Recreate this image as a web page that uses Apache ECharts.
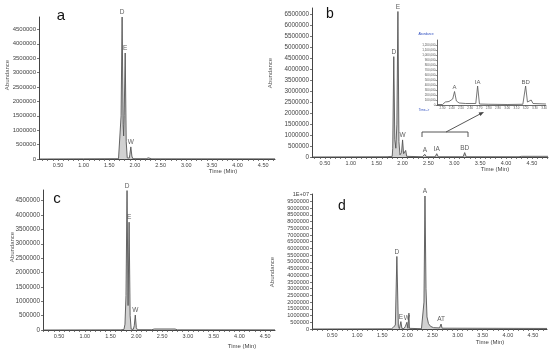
<!DOCTYPE html>
<html>
<head>
<meta charset="utf-8">
<script src="https://cdn.jsdelivr.net/npm/echarts@6/dist/echarts.min.js"></script>
<style>html,body{margin:0;padding:0;background:#fff}#c{width:550px;height:350px}</style>
</head>
<body>
<div id="c"></div>
<script>
// ---------- data ----------
const xTickLabels = [0.5, 1.0, 1.5, 2.0, 2.5, 3.0, 3.5, 4.0, 4.5];
const yTicks45 = [0, 500000, 1000000, 1500000, 2000000, 2500000, 3000000, 3500000, 4000000, 4500000];
const yTicks65 = [0, 500000, 1000000, 1500000, 2000000, 2500000, 3000000, 3500000, 4000000, 4500000, 5000000, 5500000, 6000000, 6500000];
const yTicks100 = [0, 500000, 1000000, 1500000, 2000000, 2500000, 3000000, 3500000, 4000000, 4500000, 5000000, 5500000, 6000000, 6500000, 7000000, 7500000, 8000000, 8500000, 9000000, 9500000, 10000000];
const insetXTicks = [2.3, 2.4, 2.5, 2.6, 2.7, 2.8, 2.9, 3.0, 3.1, 3.2, 3.3, 3.4];
const insetYTicks = [0, 100000, 200000, 300000, 400000, 500000, 600000, 700000, 800000, 900000, 1000000, 1100000, 1200000];

// panel a
const aTime  = [0.13, 1.00, 1.68, 1.71, 1.73, 1.75, 1.77, 1.78, 1.79, 1.81, 1.83, 1.85, 1.89, 1.90, 1.92, 1.94, 1.96, 2.22, 2.26, 2.29, 2.33, 4.73];
const aAbund = [0, 5000, 10000, 60000, 1500000, 4930000, 1200000, 800000, 1500000, 3680000, 600000, 40000, 30000, 150000, 420000, 100000, 10000, 10000, 40000, 30000, 5000, 5000];
const aPeakNames = ['D', 'E', 'W'];
const aPeakTimes = [1.75, 1.81, 1.92];
const aPeakVals  = [4930000, 3680000, 420000];

// panel b
const bTime  = [0.25, 1.70, 1.76, 1.78, 1.80, 1.81, 1.83, 1.85, 1.87, 1.89, 1.91, 1.93, 1.95, 1.98, 2.00, 2.02, 2.04, 2.06, 2.08, 2.10, 2.38, 2.43, 2.46, 2.63, 2.66, 2.69, 3.17, 3.20, 3.23, 4.25, 4.30, 4.81];
const bAbund = [0, 10000, 20000, 100000, 30000, 400000, 4580000, 800000, 400000, 1500000, 6640000, 700000, 100000, 200000, 780000, 150000, 100000, 300000, 30000, 10000, 10000, 120000, 10000, 10000, 150000, 10000, 10000, 200000, 10000, 10000, 30000, 30000];
const bPeakNames = ['D', 'E', 'W', 'A', 'IA', 'BD'];
const bPeakTimes = [1.83, 1.91, 2.00, 2.43, 2.66, 3.20];
const bPeakVals  = [4580000, 6640000, 780000, 120000, 150000, 200000];

// panel b inset
const iTime  = [2.24, 2.30, 2.33, 2.35, 2.37, 2.39, 2.41, 2.43, 2.45, 2.48, 2.55, 2.66, 2.68, 2.70, 2.80, 3.00, 3.17, 3.20, 3.22, 3.24, 3.26, 3.28, 3.42];
const iAbund = [10000, 10000, 60000, 30000, 70000, 60000, 120000, 270000, 80000, 40000, 30000, 30000, 380000, 20000, 15000, 10000, 15000, 380000, 60000, 50000, 100000, 30000, 20000];
const iPeakNames = ['A', 'IA', 'BD'];
const iPeakTimes = [2.43, 2.68, 3.20];
const iPeakVals  = [270000, 380000, 380000];

// panel c
const cTime  = [0.19, 1.70, 1.76, 1.78, 1.80, 1.82, 1.84, 1.86, 1.88, 1.90, 1.94, 1.96, 1.98, 2.00, 2.02, 2.30, 2.35, 2.75, 2.80, 4.69];
const cAbund = [0, 5000, 20000, 200000, 1200000, 4850000, 850000, 3750000, 500000, 30000, 20000, 150000, 520000, 80000, 10000, 10000, 35000, 35000, 5000, 5000];
const cPeakNames = ['D', 'E', 'W'];
const cPeakTimes = [1.82, 1.86, 1.98];
const cPeakVals  = [4850000, 3750000, 520000];

// panel d
const dTime  = [0.10, 1.68, 1.72, 1.74, 1.76, 1.79, 1.82, 1.84, 1.85, 1.87, 1.89, 1.93, 1.96, 1.99, 2.01, 2.02, 2.03, 2.04, 2.06, 2.28, 2.31, 2.33, 2.35, 2.37, 2.39, 2.42, 2.46, 2.52, 2.64, 2.67, 2.69, 4.78];
const dAbund = [0, 10000, 120000, 20000, 300000, 5400000, 200000, 30000, 100000, 550000, 50000, 30000, 200000, 500000, 50000, 50000, 1180000, 50000, 20000, 20000, 100000, 2000000, 9900000, 3000000, 900000, 400000, 200000, 100000, 80000, 370000, 60000, 40000];
const dPeakNames = ['D', 'E', 'W', 'A', 'AT'];
const dPeakTimes = [1.79, 1.87, 1.99, 2.35, 2.67];
const dPeakVals  = [5400000, 550000, 500000, 9900000, 370000];

// ---------- chart ----------
const FONT = 'Liberation Sans';
const zip = (t, v) => t.map((x, i) => [x, v[i]]);
const peaks = (n, t, v) => n.map((nm, i) => ({ name: nm, value: [t[i], v[i]] }));
function minorTicks(lo, hi) {
  const out = [];
  for (let k = Math.ceil(lo * 10); k <= Math.floor(hi * 10); k++) out.push(+(k / 10).toFixed(2));
  return out;
}

const panels = [
  { grid: { left: 39, top: 17, width: 236, height: 142 }, xmin: 0.13, xmax: 4.73, ymax: 4930000, yt: yTicks45, yfs: 6, t: aTime, v: aAbund, pk: peaks(aPeakNames, aPeakTimes, aPeakVals) },
  { grid: { left: 312, top: 8, width: 236, height: 149 }, xmin: 0.25, xmax: 4.81, ymax: 6800000, yt: yTicks65, yfs: 6.3, t: bTime, v: bAbund, pk: peaks(bPeakNames, bPeakTimes, bPeakVals) },
  { grid: { left: 43, top: 190, width: 232, height: 140 }, xmin: 0.19, xmax: 4.69, ymax: 4870000, yt: yTicks45, yfs: 6.3, t: cTime, v: cAbund, pk: peaks(cPeakNames, cPeakTimes, cPeakVals) },
  { grid: { left: 312, top: 194, width: 235, height: 135 }, xmin: 0.10, xmax: 4.78, ymax: 10050000, yt: yTicks100, yfs: 5.6, t: dTime, v: dAbund, pk: peaks(dPeakNames, dPeakTimes, dPeakVals) }
];

const grids = [], xAxes = [], yAxes = [], series = [];
const axisCol = '#444';
panels.forEach((p, i) => {
  grids.push(p.grid);
  xAxes.push({
    gridIndex: i, type: 'value', min: p.xmin, max: p.xmax,
    axisLine: { lineStyle: { color: axisCol, width: 1 } },
    axisTick: { customValues: minorTicks(p.xmin, p.xmax), length: 2, lineStyle: { color: '#555', width: 0.8 } },
    axisLabel: { customValues: xTickLabels, formatter: v => v.toFixed(2), fontSize: 5.5, color: '#444', fontFamily: FONT, margin: 3 },
    splitLine: { show: false }
  });
  yAxes.push({
    gridIndex: i, type: 'value', min: 0, max: p.ymax,
    axisLine: { show: true, lineStyle: { color: axisCol, width: 1 } },
    axisTick: { show: true, customValues: p.yt, length: 2, lineStyle: { color: '#555', width: 0.8 } },
    axisLabel: { customValues: p.yt, formatter: v => v >= 10000000 ? '1E+07' : String(v), fontSize: p.yfs, color: '#444', fontFamily: FONT, margin: 3 },
    splitLine: { show: false }
  });
  series.push({
    type: 'line', xAxisIndex: i, yAxisIndex: i, data: zip(p.t, p.v), showSymbol: false, silent: true,
    lineStyle: { color: '#555', width: 0.9 }, areaStyle: { color: '#bdbdbd', opacity: 0.7 }
  });
  series.push({
    type: 'scatter', xAxisIndex: i, yAxisIndex: i, data: p.pk, symbolSize: 0, silent: true,
    label: { show: true, position: 'top', distance: 1, formatter: '{b}', fontSize: 6.5, color: '#333', fontFamily: FONT }
  });
});

// inset
grids.push({ left: 437, top: 40, width: 111, height: 65 });
xAxes.push({
  gridIndex: 4, type: 'value', min: 2.24, max: 3.42,
  axisLine: { lineStyle: { color: axisCol, width: 0.8 } },
  axisTick: { customValues: insetXTicks, length: 1.5, lineStyle: { color: '#555', width: 0.6 } },
  axisLabel: { customValues: insetXTicks, formatter: v => v.toFixed(2), fontSize: 3, color: '#555', fontFamily: FONT, margin: 1.5 },
  splitLine: { show: false }
});
yAxes.push({
  gridIndex: 4, type: 'value', min: 0, max: 1300000,
  axisLine: { show: true, lineStyle: { color: axisCol, width: 0.8 } },
  axisTick: { show: true, customValues: insetYTicks, length: 1.5, lineStyle: { color: '#555', width: 0.6 } },
  axisLabel: { customValues: insetYTicks, fontSize: 3, color: '#555', fontFamily: FONT, margin: 1.5 },
  splitLine: { show: false }
});
series.push({
  type: 'line', xAxisIndex: 4, yAxisIndex: 4, data: zip(iTime, iAbund), showSymbol: false, silent: true,
  lineStyle: { color: '#555', width: 0.8 }
});
series.push({
  type: 'scatter', xAxisIndex: 4, yAxisIndex: 4, data: peaks(iPeakNames, iPeakTimes, iPeakVals), symbolSize: 0, silent: true,
  label: { show: true, position: 'top', distance: 1, formatter: '{b}', fontSize: 6, color: '#333', fontFamily: FONT }
});

// arrow head geometry
const aStart = [446, 131], aEnd = [484, 112];
const dx = aEnd[0] - aStart[0], dy = aEnd[1] - aStart[1], L = Math.hypot(dx, dy);
const ux = dx / L, uy = dy / L, px = -uy, py = ux;
const head = [aEnd, [aEnd[0] - 5 * ux + 2 * px, aEnd[1] - 5 * uy + 2 * py], [aEnd[0] - 5 * ux - 2 * px, aEnd[1] - 5 * uy - 2 * py]];

const txt = (x, y, s, fs, extra) => Object.assign({ type: 'text', x, y, style: Object.assign({ text: s, fontSize: fs, fontFamily: FONT, fill: '#333', align: 'center', verticalAlign: 'middle' }, extra || {}) });
const rot = (x, y, s) => ({ type: 'text', x, y, rotation: Math.PI / 2, style: { text: s, fontSize: 6, fontFamily: FONT, fill: '#555', align: 'center', verticalAlign: 'middle' } });

const graphic = [
  txt(61, 16, 'a', 15, { fill: '#111' }),
  txt(330, 14, 'b', 14, { fill: '#111' }),
  txt(57, 199, 'c', 15, { fill: '#111' }),
  txt(342, 206, 'd', 14, { fill: '#111' }),
  rot(7, 75, 'Abundance'),
  rot(270, 73, 'Abundance'),
  rot(12, 247, 'Abundance'),
  rot(272, 272, 'Abundance'),
  txt(223, 171, 'Time (Min)', 6, { fill: '#444' }),
  txt(495, 169, 'Time (Min)', 6, { fill: '#444' }),
  txt(242, 346, 'Time (Min)', 6, { fill: '#444' }),
  txt(490, 342, 'Time (Min)', 6, { fill: '#444' }),
  txt(426, 34, 'Abundance', 3, { fill: '#2a4bbf' }),
  txt(424, 110, 'Time-->', 3, { fill: '#2a4bbf' }),
  { type: 'polyline', shape: { points: [[422, 137], [422, 132], [468, 132], [468, 137]] }, style: { stroke: '#444', lineWidth: 0.9, fill: null } },
  { type: 'line', shape: { x1: aStart[0], y1: aStart[1] + 1, x2: aEnd[0] - 3 * ux, y2: aEnd[1] - 3 * uy }, style: { stroke: '#444', lineWidth: 0.9 } },
  { type: 'polygon', shape: { points: head }, style: { fill: '#444' } }
];

const chart = echarts.init(document.getElementById('c'), null, { renderer: 'canvas' });
chart.setOption({
  animation: false,
  backgroundColor: '#fff',
  textStyle: { fontFamily: FONT },
  grid: grids, xAxis: xAxes, yAxis: yAxes, series, graphic
});
</script>
</body>
</html>
